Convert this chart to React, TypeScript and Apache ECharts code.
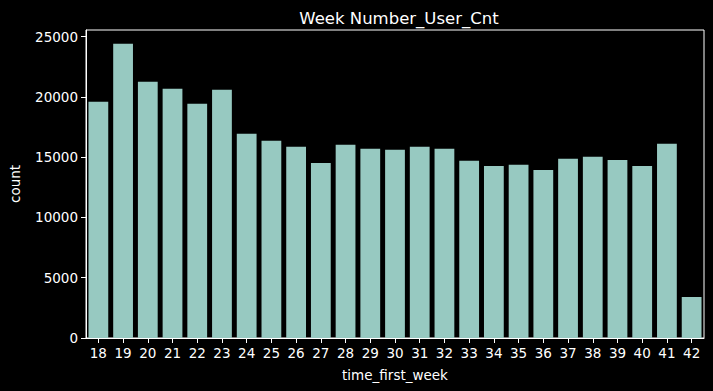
import React, { useEffect, useRef } from "react";
import * as echarts from "echarts";

const weeks = ["18","19","20","21","22","23","24","25","26","27","28","29","30","31","32","33","34","35","36","37","38","39","40","41","42"];
const counts = [19580, 24400, 21240, 20660, 19420, 20580, 16930, 16350, 15850, 14520, 16020, 15690, 15600, 15850, 15690, 14690, 14270, 14360, 13940, 14860, 15020, 14770, 14270, 16100, 3400];
const yTicks = [0, 5000, 10000, 15000, 20000, 25000];

export default function App() {
  const ref = useRef<HTMLDivElement>(null);
  useEffect(() => {
    const chart = echarts.init(ref.current!, null, { renderer: "svg" });
    const font = "DejaVu Sans";
    chart.setOption({
      animation: false,
      backgroundColor: "#000000",
      title: {
        text: "Week Number_User_Cnt",
        left: 394,
        top: 5,
        textAlign: "center",
        textStyle: { color: "#ffffff", fontFamily: font, fontSize: 16.5, fontWeight: "normal" },
      },
      grid: {
        left: 84,
        right: 9,
        top: 30,
        bottom: 53,
        show: true,
        borderColor: "#ffffff",
        borderWidth: 1,
        backgroundColor: "transparent",
      },
      xAxis: {
        type: "category",
        data: weeks,
        boundaryGap: true,
        name: "time_first_week",
        nameLocation: "middle",
        nameGap: 30,
        nameTextStyle: { color: "#ffffff", fontFamily: font, fontSize: 13.5 },
        axisLine: { show: true, lineStyle: { color: "#ffffff", width: 1 } },
        axisTick: { show: true, alignWithLabel: true, length: 5, lineStyle: { color: "#ffffff" } },
        axisLabel: { color: "#ffffff", fontFamily: font, fontSize: 13.5, margin: 8, interval: 0 },
        splitLine: { show: false },
      },
      yAxis: {
        type: "value",
        min: 0,
        max: 25540,
        name: "count",
        nameLocation: "middle",
        nameGap: 64,
        nameRotate: 90,
        nameTextStyle: { color: "#ffffff", fontFamily: font, fontSize: 13.5 },
        axisLine: { show: true, lineStyle: { color: "#ffffff", width: 1 } },
        axisTick: { show: true, length: 5, lineStyle: { color: "#ffffff" }, customValues: yTicks },
        axisLabel: {
          color: "#ffffff",
          fontFamily: font,
          fontSize: 13.5,
          margin: 8,
          customValues: yTicks,
          formatter: (v: number) => String(v),
        },
        splitLine: { show: false },
      },
      series: [
        {
          type: "bar",
          data: counts,
          barWidth: "80%",
          itemStyle: { color: "#97c9c1" },
        },
      ],
    });
    return () => chart.dispose();
  }, []);
  return <div ref={ref} style={{ position: "fixed", left: 0, top: 0, width: 713, height: 391 }} />;
}
